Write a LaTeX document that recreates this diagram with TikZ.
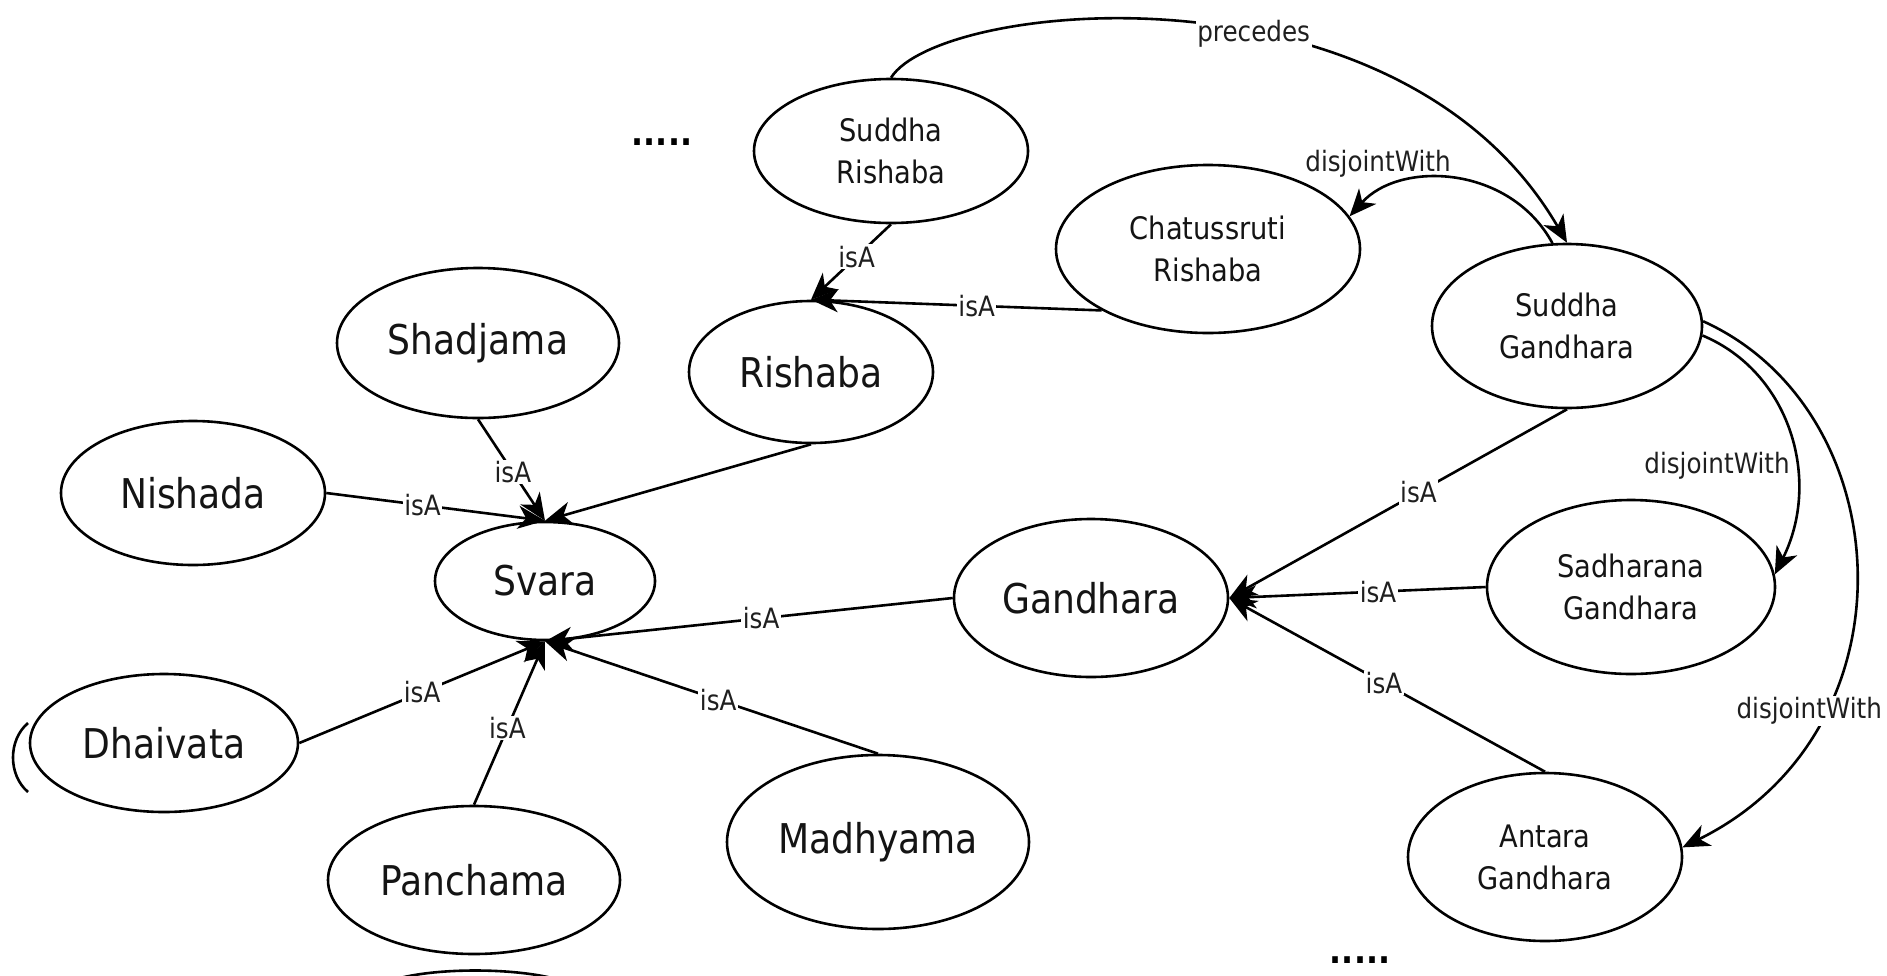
\documentclass[tikz,border=0pt]{standalone}
\usepackage{fontspec}
\setmainfont{DejaVu Sans}[FakeStretch=0.88]
\usetikzlibrary{shapes.geometric,arrows.meta}
\tikzset{
 ell/.style={ellipse, draw, line width=2.6pt, fill=white, inner sep=0pt, align=center, text=black!92},
 bignode/.style={ell, font=\fontsize{41}{48}\selectfont},
 smallnode/.style={ell, font=\fontsize{31}{42}\selectfont},
 lbl/.style={fill=white, inner sep=1.5pt, font=\fontsize{28}{32}\selectfont, text=black!88},
 plainlbl/.style={inner sep=1pt, font=\fontsize{28}{32}\selectfont, text=black!88},
 rel/.style={line width=2.6pt, -{Stealth[length=27pt,width=23pt,inset=8pt]}},
 dotsnode/.style={font=\bfseries\fontsize{36}{40}\selectfont, anchor=base},
 frag/.style={line width=2.6pt}
}
\begin{document}
\begin{tikzpicture}[x=1pt,y=-1pt]
\useasboundingbox (0,0) rectangle (1887,975);
\fill[white] (0,0) rectangle (1887,975);

% nodes
\node[smallnode, minimum width=274pt, minimum height=144pt] (SR) at (891,151) {Suddha\\Rishaba};
\node[smallnode, minimum width=304pt, minimum height=168pt] (CR) at (1208,249) {Chatussruti\\Rishaba};
\node[smallnode, minimum width=270pt, minimum height=164pt] (SG) at (1567,326) {Suddha\\Gandhara};
\node[bignode, minimum width=282pt, minimum height=150pt] (Sha) at (478,343) {Shadjama};
\node[bignode, minimum width=244pt, minimum height=142pt] (Ri) at (811,372) {Rishaba};
\node[bignode, minimum width=264pt, minimum height=144pt] (Ni) at (193,493) {Nishada};
\node[bignode, minimum width=220pt, minimum height=118pt] (Sv) at (545,581) {Svara};
\node[bignode, minimum width=274pt, minimum height=158pt] (Ga) at (1091,598) {Gandhara};
\node[smallnode, minimum width=288pt, minimum height=174pt] (SdG) at (1631,587) {Sadharana\\Gandhara};
\node[bignode, minimum width=268pt, minimum height=138pt] (Dh) at (164,743) {Dhaivata};
\node[bignode, minimum width=292pt, minimum height=148pt] (Pa) at (474,880) {Panchama};
\node[bignode, minimum width=302pt, minimum height=174pt] (Ma) at (878,842) {Madhyama};
\node[smallnode, minimum width=274pt, minimum height=168pt] (AG) at (1545,857) {Antara\\Gandhara};

\node[dotsnode] (dotsA) at (662,145) {.....};
\node[dotsnode] (dotsB) at (1360,963) {.....};

% fragments of shapes cut by the frame
\draw[frag] (28,723) .. controls (8,740) and (8,775) .. (28,792);
\draw[frag] (400,978) .. controls (440,968) and (510,968) .. (552,978);

% isA edges
\draw[rel] (SR.south) -- node[lbl,pos=0.43]{isA} (Ri.north);
\draw[rel] (CR.210) -- node[lbl,pos=0.43]{isA} (Ri.north);
\draw[rel] (Sha.south) -- node[lbl,pos=0.52]{isA} (Sv.north);
\draw[rel] (Ri.south) -- (Sv.north);
\draw[rel] (Ni.east) -- node[lbl,pos=0.44]{isA} (Sv.north);
\draw[rel] (Ga.west) -- node[lbl,pos=0.47]{isA} (Sv.south);
\draw[rel] (Dh.east) -- node[lbl,pos=0.5]{isA} (Sv.south);
\draw[rel] (Pa.north) -- node[lbl,pos=0.47]{isA} (Sv.south);
\draw[rel] (Ma.north) -- node[lbl,pos=0.48]{isA} (Sv.south);
\draw[rel] (SG.south) -- node[lbl,pos=0.44]{isA} (Ga.east);
\draw[rel] (SdG.west) -- node[lbl,pos=0.42]{isA} (Ga.east);
\draw[rel] (AG.north) -- node[lbl,pos=0.51]{isA} (Ga.east);

% curved relations
\draw[rel] (SR.north) .. controls (940,0) and (1400,-45) .. node[lbl,pos=0.58]{precedes} (SG.north);
\draw[rel] (SG.100) .. controls (1510,165) and (1400,160) .. (CR.13);
\node[plainlbl] (djA) at (1378,164) {disjointWith};
\draw[rel] (SG.-4) .. controls (1790,372) and (1822,480) .. (SdG.5);
\node[plainlbl] (djB) at (1717,466) {disjointWith};
\draw[rel] (SG.2) .. controls (1900,410) and (1920,730) .. node[lbl,pos=0.72,xshift=-14pt]{disjointWith} (AG.4);
\end{tikzpicture}
\end{document}
